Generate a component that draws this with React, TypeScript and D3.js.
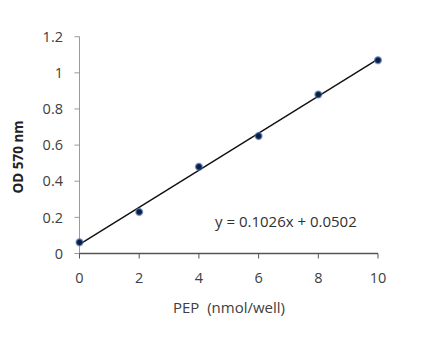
import React from "react";
import * as d3 from "d3";

const pep = [0, 2, 4, 6, 8, 10];
const od = [0.062, 0.23, 0.48, 0.65, 0.88, 1.07];
const xTicks = [0, 2, 4, 6, 8, 10];
const yTicks = [0, 0.2, 0.4, 0.6, 0.8, 1, 1.2];
const slope = 0.1026;
const intercept = 0.0502;
const equation = "y = 0.1026x + 0.0502";

export default function App() {
  const W = 425, H = 357;
  const x = d3.scaleLinear().domain([0, 10]).range([79.5, 378]);
  const y = d3.scaleLinear().domain([0, 1.2]).range([253.5, 36.7]);
  const font = "'Open Sans', 'Liberation Sans', sans-serif";
  const line = d3.line<number>().x((d) => x(d)).y((d) => y(slope * d + intercept));
  return (
    <svg width={W} height={H} style={{ position: "absolute", left: 0, top: 0, background: "#fff" }}>
      <defs>
        <radialGradient id="glow">
          <stop offset="0%" stopColor="#0a1a3a" />
          <stop offset="55%" stopColor="#0d2350" />
          <stop offset="100%" stopColor="#5a8ad0" stopOpacity={0.5} />
        </radialGradient>
      </defs>
      {/* y axis */}
      <line x1={x(0)} x2={x(0)} y1={y(0)} y2={y(1.2)} stroke="#9a9a9a" strokeWidth={1} />
      {yTicks.map((t) => (
        <g key={t}>
          <line x1={x(0) - 5} x2={x(0)} y1={y(t)} y2={y(t)} stroke="#9a9a9a" />
          <text x={63} y={y(t)} dy="0.36em" textAnchor="end" fontFamily={font} fontSize={14.5} fill="#404040">
            {d3.format("~g")(t)}
          </text>
        </g>
      ))}
      {/* x axis */}
      <line x1={x(0)} x2={x(10)} y1={y(0)} y2={y(0)} stroke="#555" strokeWidth={1.3} />
      {xTicks.map((t) => (
        <g key={t}>
          <line x1={x(t)} x2={x(t)} y1={y(0)} y2={y(0) + 5} stroke="#555" />
          <text x={x(t)} y={278} dy="0.36em" textAnchor="middle" fontFamily={font} fontSize={14.5} fill="#404040">
            {t}
          </text>
        </g>
      ))}
      {/* trendline */}
      <path d={line([0, 10]) || ""} stroke="#111" strokeWidth={1.4} fill="none" />
      {pep.map((p, i) => (
        <circle key={i} cx={x(p)} cy={y(od[i])} r={4.2} fill="url(#glow)" />
      ))}
      <text x={215} y={227} fontFamily={font} fontSize={15} fill="#303030">
        {equation}
      </text>
      <text x={229} y={313} textAnchor="middle" fontFamily={font} fontSize={15} fill="#404040" style={{ whiteSpace: "pre" }}>
        {"PEP  (nmol/well)"}
      </text>
      <text
        transform={`translate(18,157) rotate(-90)`}
        textAnchor="middle"
        dy="0.36em"
        fontFamily={font}
        fontSize={13.5}
        fontWeight="bold"
        fill="#222"
      >
        OD 570 nm
      </text>
    </svg>
  );
}
